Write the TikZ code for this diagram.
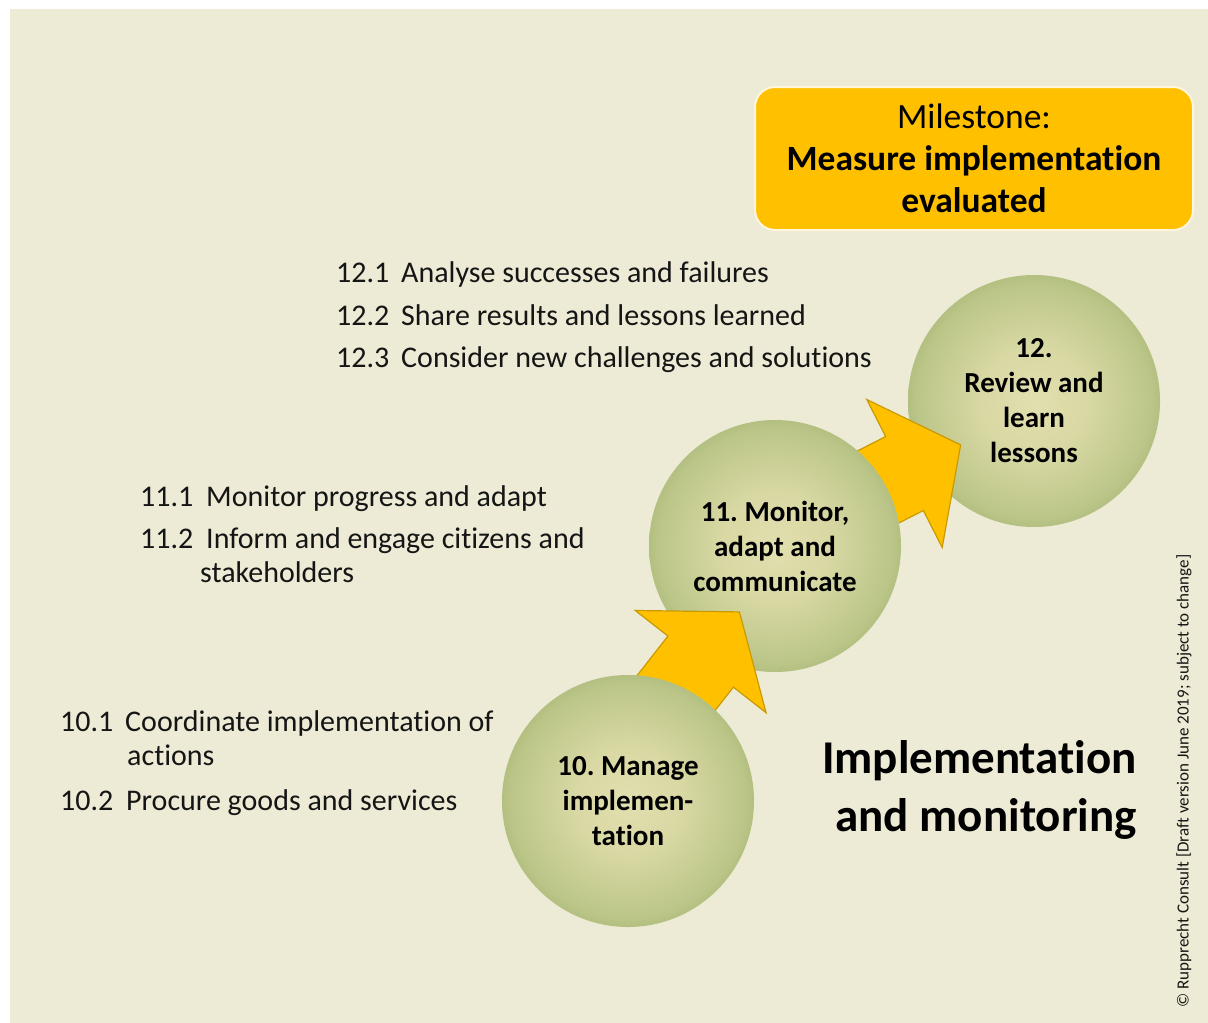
\documentclass[tikz,border=0pt]{standalone}
\usepackage{fontspec}
\setmainfont{Carlito}[Ligatures={TeX,NoCommon}]
\usetikzlibrary{calc}
\definecolor{bg}{HTML}{EDEAD5}
\definecolor{gold}{HTML}{FFC000}
\definecolor{goldline}{HTML}{C99A00}
\definecolor{gin}{HTML}{E0DFAE}
\definecolor{gin2}{HTML}{DAD9A5}
\definecolor{gmid}{HTML}{BCC689}
\definecolor{gout}{HTML}{93AA65}
\definecolor{txt}{HTML}{151515}
\definecolor{msline}{HTML}{FFF6DC}
\pgfdeclareradialshading{greenball}{\pgfpointorigin}{color(0bp)=(gin); color(10bp)=(gin2); color(23bp)=(gmid); color(32bp)=(gout); color(50bp)=(gout)}
\begin{document}
\frenchspacing
\begin{tikzpicture}[x=1pt,y=-1pt,
  stepcircle/.style={circle, minimum size=252pt, inner sep=0pt, shading=greenball, align=center,
    font=\fontsize{29}{35}\selectfont\bfseries, text=black},
  blockarrow/.style={fill=gold, draw=goldline, line width=1.2pt, line join=miter},
  item/.style={anchor=base west, inner sep=0pt, font=\fontsize{30}{36}\selectfont, text=txt},
  milestone/.style={rounded corners=20pt, fill=gold, draw=msline, line width=2pt, align=center,
    minimum width=438pt, minimum height=143pt, inner sep=0pt, font=\fontsize{35.5}{42}\selectfont, text=black}]
\fill[white] (0,0) rectangle (1208,1023);
\fill[bg] (10,9) rectangle (1208,1023);
\useasboundingbox (0,0) rectangle (1208,1023);

\coordinate (p10) at (628,801);
\coordinate (p11) at (775,546);
\coordinate (p12) at (1034,401);

% step 12
\node[stepcircle] (c12) at (p12) {12.\\Review and\\learn\\lessons};
% arrow 11 -> 12
\begin{scope}[shift={($(p11)!0.5!(p12)$)}, rotate=27]
  \draw[blockarrow] (-100,-41.5) -- (0,-41.5) -- (0,-83) -- (63,0) -- (0,83) -- (0,41.5) -- (-100,41.5) -- cycle;
\end{scope}
% step 11
\node[stepcircle] (c11) at (p11) {11. Monitor,\\adapt and\\communicate};
% arrow 10 -> 11
\begin{scope}[shift={($(p10)!0.535!(p11)+(-6,-3)$)}, rotate=52]
  \draw[blockarrow] (-110,-41.5) -- (0,-41.5) -- (0,-83) -- (63,0) -- (0,83) -- (0,41.5) -- (-110,41.5) -- cycle;
\end{scope}
% step 10
\node[stepcircle] (c10) at (p10) {10. Manage\\implemen-\\tation};

% milestone
\node[milestone] (ms) at (974,158.5) {Milestone:\\\textbf{Measure implementation}\\\textbf{evaluated}};

% lists
\node[item] (n121) at (336,282) {12.1};
\node[item] (t121) at (401,282) {Analyse successes and failures};
\node[item] (n122) at (336,325) {12.2};
\node[item] (t122) at (401,325) {Share results and lessons learned};
\node[item] (n123) at (336,367) {12.3};
\node[item] (t123) at (401,367) {Consider new challenges and solutions};

\node[item] (n111) at (140,506) {11.1};
\node[item] (t111) at (206,506) {Monitor progress and adapt};
\node[item] (n112) at (140,548) {11.2};
\node[item] (t112) at (206,548) {Inform and engage citizens and};
\node[item] (t112b) at (200,582) {stakeholders};

\node[item] (n101) at (60,731) {10.1};
\node[item] (t101) at (125,731) {Coordinate implementation of};
\node[item] (t101b) at (127,765) {actions};
\node[item] (n102) at (60,810) {10.2};
\node[item] (t102) at (126,810) {Procure goods and services};

% title
\node[anchor=east, align=right, inner sep=0pt, font=\fontsize{47}{58}\selectfont\bfseries, text=black] (title) at (1137,790) {Implementation\\and monitoring};

% copyright
\node[rotate=90, inner sep=0pt, font=\fontsize{17}{20}\selectfont, text=txt] (copy) at (1184,781) {© Rupprecht Consult [Draft version June 2019; subject to change]};
\end{tikzpicture}
\end{document}
